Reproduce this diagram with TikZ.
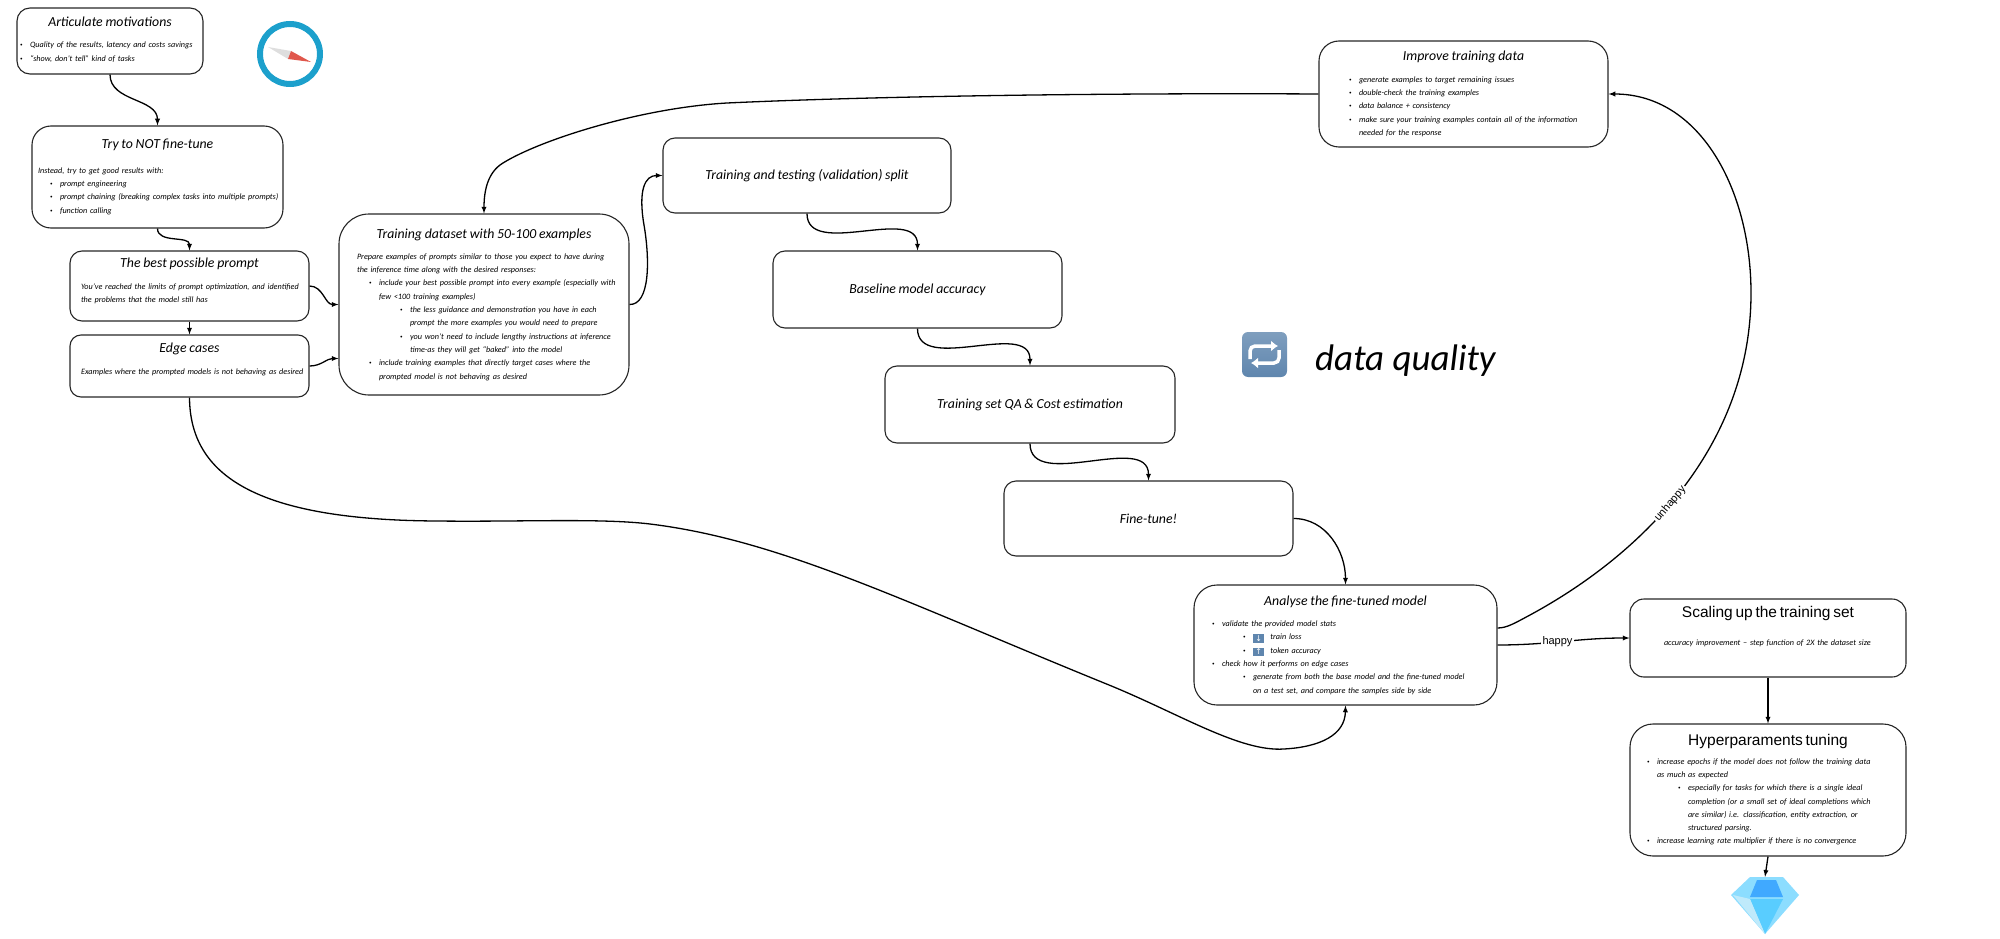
\documentclass[tikz,border=0pt]{standalone}
\usepackage{fontspec}
\setmainfont{Carlito}
\newfontfamily\arialfont{Liberation Sans}
\newfontfamily\symbolfont{DejaVu Sans}
\usetikzlibrary{positioning,arrows,arrows.meta}
\definecolor{keyblue}{HTML}{5F86AE}
\definecolor{ringblue}{HTML}{1CA0CC}
\definecolor{needlered}{HTML}{E0574C}
% body lines of the boxes
\newcommand{\steptitle}[1]{{\fontsize{13.8}{18}\selectfont\centering #1\par}}
\newcommand{\headline}[1]{\steptitle{#1}\vspace{8pt}}
\newcommand{\sanshead}[1]{{\arialfont\upshape\fontsize{15.5}{19}\selectfont\centering #1\par}\vspace{5pt}}
\newcommand{\bul}[2]{\par\hspace*{#1pt}\makebox[10pt][l]{\raisebox{1pt}{\fontsize{5}{5}\selectfont\textbullet}}\mbox{#2}}
\newcommand{\plain}[2]{\par\hspace*{#1pt}\mbox{#2}}
\newcommand{\arrowkey}[1]{\raisebox{-1.5pt}{\setlength{\fboxsep}{1.2pt}\colorbox{keyblue}{\makebox[9pt][c]{\textcolor{white}{\symbolfont\upshape\fontsize{8}{8}\selectfont #1}}}}}
\begin{document}
\begin{tikzpicture}[
    x=1pt,y=-1pt,
    % define styles
    stepbox/.style n args={3}{
        draw=black!85,
        line width=1.1pt,
        rounded corners=#3,
        inner sep=0pt,
        text width=#1,
        minimum height=#2,
        font=\itshape\fontsize{8.2}{13.3}\selectfont
    },
    flow/.style={
        -latex,
        line width=1.3pt,
        black
    },
    tag/.style={
        font=\arialfont\fontsize{11}{12}\selectfont,
        fill=white,
        inner sep=1.5pt
    }
]
\useasboundingbox (0,0) rectangle (2000,939);

% Left column
\node[stepbox={186pt}{66pt}{13pt}] at (110,41) (motiv) {
    \headline{Articulate motivations}
    \bul{3}{Quality of the results, latency and costs savings}
    \bul{3}{``show, don't tell'' kind of tasks}
    \vspace{3pt}};
\node[stepbox={251pt}{102pt}{19pt}] at (157.5,177) (nofine) {
    \steptitle{Try to NOT fine-tune}
    \vspace{11pt}
    \plain{6}{Instead, try to get good results with:}
    \bul{18}{prompt engineering}
    \bul{18}{prompt chaining (breaking complex tasks into multiple prompts)}
    \bul{18}{function calling}};
\node[stepbox={239pt}{70pt}{12pt}] at (189.5,286) (best) {
    \headline{The best possible prompt}
    \plain{11}{You've reached the limits of prompt optimization, and identified}
    \plain{11}{the problems that the model still has}
    \vspace{10pt}};
\node[stepbox={239pt}{62pt}{11pt}] at (189.5,366) (edge) {
    \headline{Edge cases}
    \plain{11}{Examples where the prompted models is not behaving as desired}
    \vspace{13pt}};

% Training dataset
\node[stepbox={290pt}{181pt}{30pt}] at (484,304.5) (dataset) {
    \headline{Training dataset with 50-100 examples}
    \plain{18}{Prepare examples of prompts similar to those you expect to have during}
    \plain{18}{the inference time along with the desired responses:}
    \bul{30}{include your best possible prompt into every example (especially with}
    \plain{40}{few <100 training examples)}
    \bul{61}{the less guidance and demonstration you have in each}
    \plain{71}{prompt the more examples you would need to prepare}
    \bul{61}{you won't need to include lengthy instructions at inference}
    \plain{71}{time-as they will get ``baked'' into the model}
    \bul{30}{include training examples that directly target cases where the}
    \plain{40}{prompted model is not behaving as desired}};

% Staircase of steps
\node[stepbox={288pt}{75pt}{12pt}] at (807,175.5) (split) {\steptitle{Training and testing (validation) split}};
\node[stepbox={289pt}{77pt}{12pt}] at (917.5,289.5) (baseline) {\steptitle{Baseline model accuracy}};
\node[stepbox={290pt}{77pt}{12pt}] at (1030,404.5) (qa) {\steptitle{Training set QA \& Cost estimation}};
\node[stepbox={289pt}{75pt}{12pt}] at (1148.5,518.5) (tune) {\steptitle{Fine-tune!}};

% Analysis and the data loop
\node[stepbox={303pt}{120pt}{23pt}] at (1345.5,645) (analyse) {
    \headline{Analyse the fine-tuned model}
    \bul{18}{validate the provided model stats}
    \bul{49}{\arrowkey{↓}\hspace{6pt}train loss}
    \bul{49}{\arrowkey{↑}\hspace{6pt}token accuracy}
    \bul{18}{check how it performs on edge cases}
    \bul{49}{generate from both the base model and the fine-tuned model}
    \plain{59}{on a test set, and compare the samples side by side}};
\node[stepbox={289pt}{106pt}{20pt}] at (1463.5,94) (improve) {
    \headline{Improve training data}
    \bul{30}{generate examples to target remaining issues}
    \bul{30}{double-check the training examples}
    \bul{30}{data balance + consistency}
    \bul{30}{make sure your training examples contain all of the information}
    \plain{40}{needed for the response}};

% Right column
\node[stepbox={276pt}{78pt}{14pt}] at (1768,638) (scaling) {
    \sanshead{Scaling up the training set}
    \vspace{9pt}
    \plain{34}{accuracy improvement -- step function of 2X the dataset size}
    \vspace{23pt}};
\node[stepbox={276pt}{132pt}{23pt}] at (1768,790) (hyper) {
    \sanshead{Hyperparaments tuning}
    \bul{17}{increase epochs if the model does not follow the training data}
    \plain{27}{as much as expected}
    \bul{48}{especially for tasks for which there is a single ideal}
    \plain{58}{completion (or a small set of ideal completions which}
    \plain{58}{are similar) i.e. classification, entity extraction, or}
    \plain{58}{structured parsing.}
    \bul{17}{increase learning rate multiplier if there is no convergence}};

% Diamond under the last box
\node[minimum width=68pt,minimum height=58pt,inner sep=0pt] at (1765,906) (gem) {};
\fill[blue!30!cyan!45!white] (1750,877) -- (1783,877) -- (1799,895) -- (1765,934) -- (1731,895) -- cycle;
\fill[blue!45!cyan!75] (1757,880) -- (1776,880) -- (1783,897) -- (1750,897) -- cycle;
\fill[blue!30!cyan!65] (1750,899) -- (1783,899) -- (1765,934) -- cycle;
\fill[cyan!25] (1733,895) -- (1750,899) -- (1765,934) -- cycle;

% Compass
\draw[ringblue,line width=6pt] (290,54) circle (30);
\fill[black!13] (268,47) -- (291,51) -- (288,59) -- cycle;
\fill[needlered] (291,51) -- (311,62) -- (288,59) -- cycle;

% Loop icon and its caption
\node[top color=keyblue!80,bottom color=keyblue,rounded corners=6pt,minimum size=45pt,inner sep=0pt] at (1264.5,354.5) (loopicon) {};
\draw[white,line width=3.5pt,rounded corners=5pt,-{Latex[length=7pt,width=11pt]}] (1250,359) -- (1250,346) -- (1278,346);
\draw[white,line width=3.5pt,rounded corners=5pt,-{Latex[length=7pt,width=11pt]}] (1279,350) -- (1279,363) -- (1251,363);
\node[anchor=base west,inner sep=0pt,font=\itshape\fontsize{37}{40}\selectfont] at (1315,370) (quality) {data quality};

% Arrows joining the steps
\draw[flow] (motiv.south) to[out=-90,in=90] (nofine.north);
\draw[flow] (nofine.south) to[out=-90,in=90] (best.north);
\draw[flow] (best.south) -- (edge.north);
\draw[flow] (best.east) to[out=0,in=180] (dataset.west);
\draw[flow] (edge.east) to[out=0,in=180] ([yshift=-54pt]dataset.west);
\draw[flow] (dataset.east) .. controls (650,305) and (650,260) .. (644,225)
    .. controls (638,190) and (645,175.5) .. (split.west);
\draw[flow] (split.south) to[out=-90,in=90] (baseline.north);
\draw[flow] (baseline.south) to[out=-90,in=90] (qa.north);
\draw[flow] (qa.south) to[out=-90,in=90] (tune.north);
\draw[flow] (tune.east) to[out=0,in=90] (analyse.north);
\draw[flow] (analyse.east) to[out=0,in=180] node[tag,pos=.45] {happy} (scaling.west);
\draw[flow] (scaling.south) -- (hyper.north);
\draw[flow] (hyper.south) -- (gem.north);
% long way back from the edge cases
\draw[flow] (edge.south) .. controls (190,475) and (255,520) .. (437,521)
    .. controls (520,522) and (600,518) .. (650,524)
    .. controls (780,540) and (900,600) .. (1109,685)
    .. controls (1180,714) and (1240,752) .. (1284,749)
    .. controls (1320,747) and (1345,735) .. (analyse.south);
% unhappy goes round to the training data
\draw[flow] ([yshift=17pt]analyse.east) .. controls (1507,628) and (1515,623) .. (1530,615)
    .. controls (1650,550) and (1751,440) .. node[tag,sloped,pos=.44] {unhappy} (1751,293)
    .. controls (1751,190) and (1700,94) .. (improve.east);
\draw[flow] (improve.west) .. controls (1150,93) and (900,95) .. (727,103)
    .. controls (640,108) and (540,140) .. (503,163)
    .. controls (488,172) and (484,190) .. (dataset.north);
\end{tikzpicture}
\end{document}
